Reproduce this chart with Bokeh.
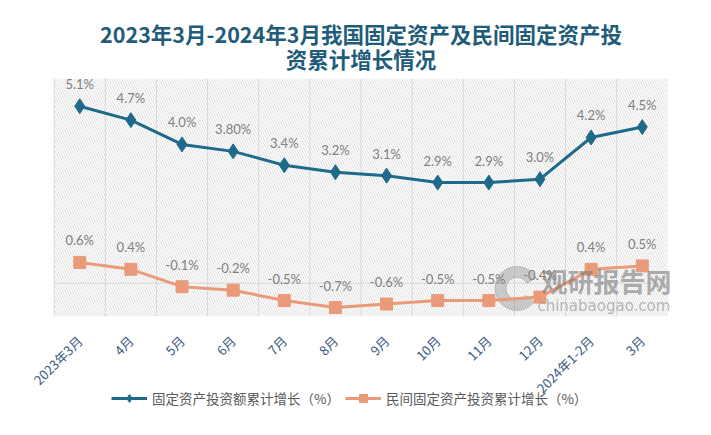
import math
from bokeh.plotting import figure
from bokeh.models import (ColumnDataSource, Range1d, FactorRange, Span, BoxAnnotation,
                          Legend, LegendItem, Title, Label)
from bokeh.core.properties import value
from bokeh.embed import file_html
from bokeh.resources import INLINE

categories = ["2023年3月", "4月", "5月", "6月", "7月", "8月", "9月", "10月", "11月", "12月", "2024年1-2月", "3月"]
total_growth = [5.1, 4.7, 4.0, 3.8, 3.4, 3.2, 3.1, 2.9, 2.9, 3.0, 4.2, 4.5]
total_labels = ["5.1%", "4.7%", "4.0%", "3.80%", "3.4%", "3.2%", "3.1%", "2.9%", "2.9%", "3.0%", "4.2%", "4.5%"]
private_growth = [0.6, 0.4, -0.1, -0.2, -0.5, -0.7, -0.6, -0.5, -0.5, -0.4, 0.4, 0.5]
private_labels = ["0.6%", "0.4%", "-0.1%", "-0.2%", "-0.5%", "-0.7%", "-0.6%", "-0.5%", "-0.5%", "-0.4%", "0.4%", "0.5%"]

Y_MIN, Y_MAX = -0.95, 5.9
N = len(categories)

BLUE = "#1f6a8a"
ORANGE = "#e99b79"
LABEL_GRAY = "#7f7f7f"

src = ColumnDataSource(dict(cat=categories, total=total_growth, tl=total_labels,
                            priv=private_growth, pl=private_labels))

xr = FactorRange(*categories, range_padding=0.6, range_padding_units="absolute")
p = figure(width=710, height=430, x_range=xr, y_range=Range1d(-4.1, Y_MAX),
           output_backend="svg", toolbar_location=None,
           min_border_left=23, min_border_right=12, min_border_top=78, min_border_bottom=5)
p.outline_line_color = None
p.xgrid.visible = False
p.ygrid.visible = False
p.yaxis.visible = False
p.background_fill_color = "white"
p.border_fill_color = "white"

# hatched plot area
p.add_layout(BoxAnnotation(left=0, right=N, bottom=Y_MIN, fill_alpha=0, line_alpha=0, hatch_pattern="\\",
                           hatch_color="#d4d4d4", hatch_scale=5, hatch_weight=0.8, level="underlay"))
# vertical gridlines at category boundaries
bounds = list(range(N))
p.segment(x0=bounds, y0=[Y_MIN] * N, x1=bounds, y1=[Y_MAX] * N,
          line_color="#d9d9d9", line_width=1, level="underlay")
# zero line
p.segment(x0=[0], y0=[0], x1=[N], y1=[0], line_color="#d9d9d9", line_width=1, level="underlay")

# watermark
p.annular_wedge(x=[9.05], y=[-0.15], inner_radius=11, outer_radius=22,
                inner_radius_units="screen", outer_radius_units="screen",
                start_angle=0.5, end_angle=5.6, color="#8c8c8c", alpha=0.4)
p.add_layout(Label(x=10.8, y=0.09, text="观研报告网", text_font="Noto Sans CJK SC", text_font_style="bold",
                   text_font_size="26px", text_color="#7a7a7a", text_alpha=0.6, text_align="center",
                   text_baseline="middle"))
p.add_layout(Label(x=10.75, y=-0.66, text="chinabaogao.com", text_font="DejaVu Sans",
                   text_font_size="15px", text_color="#8a8a8a", text_alpha=0.6, text_align="center",
                   text_baseline="middle"))

l1 = p.line("cat", "total", source=src, line_color=BLUE, line_width=3)
s1 = p.scatter("cat", "total", source=src, marker="diamond", size=15, fill_color=BLUE, line_color=BLUE)
l2 = p.line("cat", "priv", source=src, line_color=ORANGE, line_width=3)
s2 = p.scatter("cat", "priv", source=src, marker="square", size=12, fill_color=ORANGE, line_color=ORANGE)

p.text("cat", "total", text="tl", source=src, text_font=value("Lato"), text_font_size="13px",
       text_color=LABEL_GRAY, text_align="center", text_baseline="middle", y_offset=-22)
p.text("cat", "priv", text="pl", source=src, text_font=value("Lato"), text_font_size="13px",
       text_color=LABEL_GRAY, text_align="center", text_baseline="middle", y_offset=-22)

ax = p.xaxis[0]
ax.fixed_location = Y_MIN
ax.axis_line_color = None
ax.major_tick_line_color = None
ax.minor_tick_line_color = None
ax.major_label_orientation = math.pi / 4
ax.major_label_text_font = "Noto Sans CJK SC"
ax.major_label_text_font_size = "13px"
ax.major_label_text_color = "#3a5a82"
ax.major_label_standoff = 16

legend = Legend(items=[LegendItem(label="固定资产投资额累计增长（%）", renderers=[l1, s1]),
                       LegendItem(label="民间固定资产投资累计增长（%）", renderers=[l2, s2])],
                orientation="horizontal", location=(88, 17), border_line_color=None,
                background_fill_alpha=0, label_text_font="Noto Sans CJK SC", label_text_font_size="13.5px",
                label_text_color="#595959", glyph_width=36, label_standoff=5, spacing=5, padding=2, margin=0)
p.add_layout(legend, "center")

p.title.visible = False
t = Title(text="2023年3月-2024年3月我国固定资产及民间固定资产投\n资累计增长情况", align="center",
          text_align="center", text_font="Noto Sans CJK SC", text_font_size="21.5px", text_line_height=0.8,
          text_color="#1f5c7a", text_font_style="bold", standoff=9, offset=6)
p.add_layout(t, "above")

open("out.html", "w").write(file_html(p, INLINE))
